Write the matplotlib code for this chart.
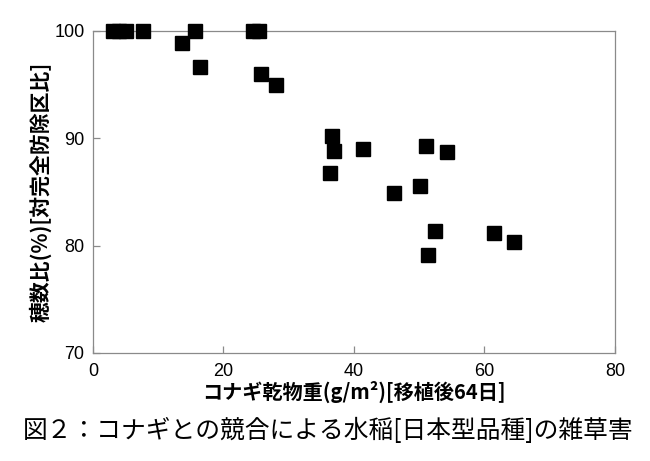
import matplotlib
matplotlib.use('Agg')
import matplotlib.pyplot as plt

# コナギ乾物重 (g/m2) と 穂数比 (%)
weed_dw = [3.0, 4.0, 5.0, 7.7, 15.6, 24.6, 25.5,
           13.7, 16.4, 25.7, 28.0,
           36.7, 37.0, 36.4, 41.4,
           51.0, 54.2, 46.2, 50.1,
           52.4, 51.3, 61.4, 64.6]
panicle_ratio = [100, 100, 100, 100, 100, 100, 100,
                 98.85, 96.6, 96.0, 95.0,
                 90.17, 88.84, 86.8, 89.0,
                 89.26, 88.68, 84.93, 85.53,
                 81.39, 79.12, 81.16, 80.36]

xticks = [0, 20, 40, 60, 80]
yticks = [70, 80, 90, 100]

jp = ['Noto Sans CJK JP', 'DejaVu Sans']
num = ['Liberation Sans Narrow', 'Liberation Sans', 'DejaVu Sans']

fig = plt.figure(figsize=(6.5, 4.61), dpi=100)
ax = fig.add_axes([0.143, 0.2343, 0.803, 0.6985])

ax.plot(weed_dw, panicle_ratio, linestyle='none', marker='s',
        markersize=9.4, color='black', clip_on=False, zorder=3)

ax.set_xlim(0, 80)
ax.set_ylim(70, 100)
ax.set_xticks(xticks)
ax.set_yticks(yticks)
for sp in ax.spines.values():
    sp.set_color('#8a8a8a')
    sp.set_linewidth(0.9)
ax.tick_params(direction='in', length=5, width=0.9, color='#8a8a8a',
               labelsize=13)
ax.tick_params(axis='x', pad=7)
ax.tick_params(axis='y', pad=6)
for lab in ax.get_xticklabels() + ax.get_yticklabels():
    lab.set_family(num)

ax.set_xlabel('コナギ乾物重(g/m²)[移植後64日]', family=jp, fontsize=14.5,
              fontweight='bold', labelpad=1)
ax.set_ylabel('穂数比(%)[対完全防除区比]', family=jp, fontsize=15,
              fontweight='bold', labelpad=2)

fig.text(0.505, 0.066, '図２：コナギとの競合による水稲[日本型品種]の雑草害',
         family=jp, fontsize=17.8, ha='center', va='center')

fig.savefig('out.png', dpi=100)
